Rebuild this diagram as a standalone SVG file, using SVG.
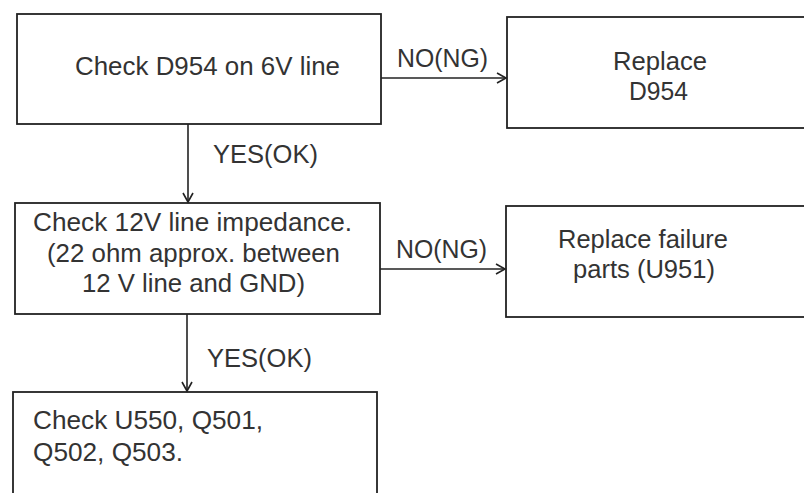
<svg xmlns="http://www.w3.org/2000/svg" width="804" height="493" viewBox="0 0 804 493">
<defs>
<marker id="arr" markerWidth="12" markerHeight="12" refX="10" refY="6" orient="auto" markerUnits="userSpaceOnUse">
<path d="M1,1 L10,6 L1,11" fill="none" stroke="#222" stroke-width="1.6"/>
</marker>
<style>
.box{fill:#fff;stroke:#222;stroke-width:1.8}
.t{font-family:"Liberation Sans",Arial,sans-serif;font-size:25.5px;fill:#333}
.c{stroke:#222;stroke-width:1.6;fill:none}
</style>
</defs>
<rect width="804" height="493" fill="#fff"/>
<g id="n1"><rect class="box" x="17" y="14" width="364" height="110"/>
<text class="t" x="75" y="75" textLength="265" lengthAdjust="spacingAndGlyphs">Check D954  on 6V line</text></g>
<g id="n2"><rect class="box" x="507" y="17" width="310" height="111"/>
<text class="t" x="613" y="70" textLength="94" lengthAdjust="spacingAndGlyphs">Replace</text>
<text class="t" x="629" y="100" textLength="59" lengthAdjust="spacingAndGlyphs">D954</text></g>
<g id="n3"><rect class="box" x="15" y="203" width="365" height="111"/>
<text class="t" x="33" y="231" textLength="319" lengthAdjust="spacingAndGlyphs">Check 12V line impedance.</text>
<text class="t" x="47" y="262" textLength="293" lengthAdjust="spacingAndGlyphs">(22 ohm approx. between</text>
<text class="t" x="82" y="292" textLength="223" lengthAdjust="spacingAndGlyphs">12 V line and GND)</text></g>
<g id="n4"><rect class="box" x="506" y="206" width="310" height="111"/>
<text class="t" x="558" y="248" textLength="170" lengthAdjust="spacingAndGlyphs">Replace failure</text>
<text class="t" x="573" y="278" textLength="142" lengthAdjust="spacingAndGlyphs">parts (U951)</text></g>
<g id="n5"><rect class="box" x="13" y="392" width="364" height="120"/>
<text class="t" x="33" y="429" textLength="230" lengthAdjust="spacingAndGlyphs">Check U550, Q501,</text>
<text class="t" x="33" y="461" textLength="150" lengthAdjust="spacingAndGlyphs">Q502, Q503.</text></g>
<g id="connectors">
<line class="c" x1="381" y1="78" x2="506" y2="78" marker-end="url(#arr)"/>
<line class="c" x1="188" y1="124" x2="188" y2="202" marker-end="url(#arr)"/>
<line class="c" x1="380" y1="269" x2="505" y2="269" marker-end="url(#arr)"/>
<line class="c" x1="187" y1="314" x2="187" y2="391" marker-end="url(#arr)"/>
<text class="t" x="397" y="67" textLength="91" lengthAdjust="spacingAndGlyphs">NO(NG)</text>
<text class="t" x="213" y="163" textLength="105" lengthAdjust="spacingAndGlyphs">YES(OK)</text>
<text class="t" x="396" y="258" textLength="91" lengthAdjust="spacingAndGlyphs">NO(NG)</text>
<text class="t" x="207" y="367" textLength="105" lengthAdjust="spacingAndGlyphs">YES(OK)</text>
</g>
</svg>
